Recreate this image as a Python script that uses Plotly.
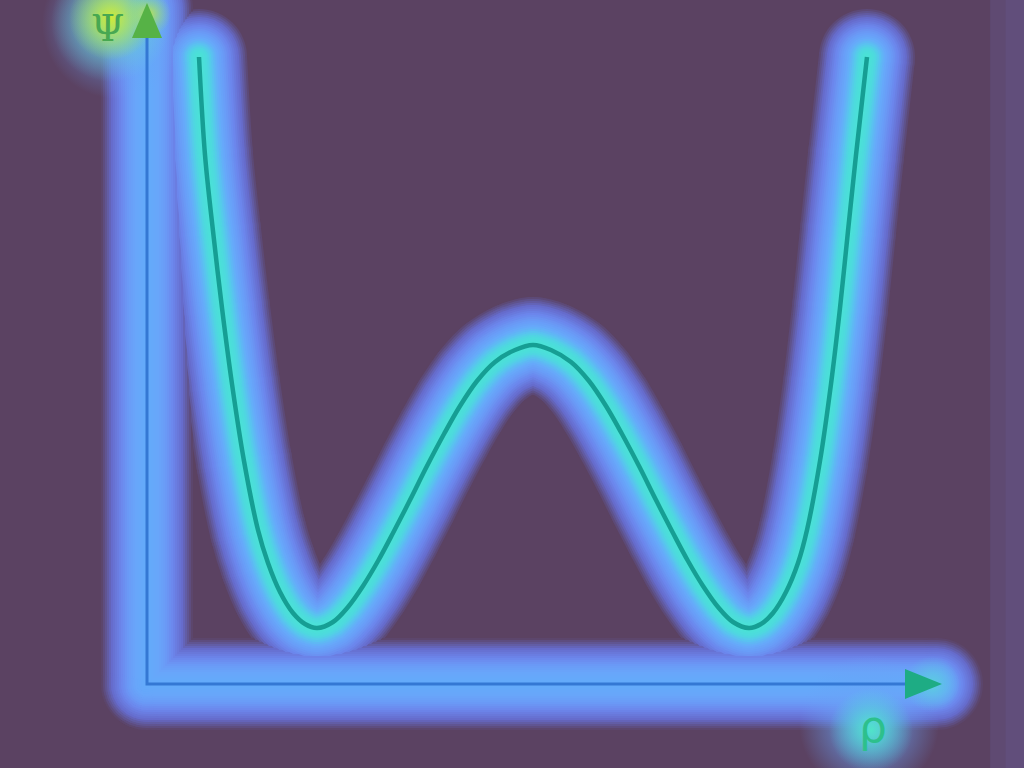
import plotly.graph_objects as go

# Double-well potential curve Psi(rho)
rho = [0.52, 0.58, 0.66, 0.75, 0.85, 0.97, 1.11, 1.21, 1.33, 1.46, 1.58, 1.70,
       1.86, 2.01, 2.16, 2.31, 2.46, 2.63, 2.80, 2.97, 3.13, 3.30, 3.48, 3.68, 3.86,
       4.04, 4.24, 4.42, 4.59, 4.75, 4.92, 5.09, 5.26, 5.41, 5.56, 5.71, 5.86, 6.02,
       6.14, 6.26, 6.39, 6.51, 6.60, 6.73, 6.84, 6.93, 7.01, 7.09, 7.20]
psi = [6.27, 5.29, 4.53, 3.76, 3.00, 2.23, 1.54, 1.21, 0.92, 0.71, 0.60, 0.56,
       0.62, 0.77, 0.98, 1.23, 1.51, 1.84, 2.18, 2.50, 2.78, 3.03, 3.22, 3.34, 3.39,
       3.34, 3.22, 3.03, 2.78, 2.50, 2.18, 1.84, 1.51, 1.23, 0.98, 0.77, 0.62, 0.56,
       0.60, 0.71, 0.92, 1.21, 1.54, 2.23, 3.00, 3.76, 4.53, 5.29, 6.27]

# Axis extents
x_axis_end = 7.58
x_arrow_tip = 7.95
y_axis_end = 6.46
y_arrow_tip = 6.81
head_half = 0.15

x_label = "ρ"
y_label = "Ψ"

BG = (91, 66, 98)

# glow colour profiles: (distance from line in px, rgb)
curve_profile = [(4, (75, 225, 215)), (9, (78, 218, 222)), (14, (90, 194, 240)),
                 (19, (102, 170, 250)), (25, (106, 156, 247)), (32, (108, 134, 236)),
                 (40, (102, 108, 204)), (50, BG)]
axis_profile = [(4, (100, 170, 250)), (12, (104, 166, 250)), (19, (106, 156, 247)),
                (27, (108, 134, 236)), (36, (102, 108, 204)), (47, BG)]


def colour_at(profile, d):
    if d <= profile[0][0]:
        c = profile[0][1]
    elif d >= profile[-1][0]:
        c = profile[-1][1]
    else:
        for (d0, c0), (d1, c1) in zip(profile[:-1], profile[1:]):
            if d0 <= d <= d1:
                t = (d - d0) / (d1 - d0)
                c = tuple(round(a + (b - a) * t) for a, b in zip(c0, c1))
                break
    return "rgb(%d,%d,%d)" % c


fig = go.Figure()


def glow_path(xs, ys, d, profile, spline):
    col = colour_at(profile, d)
    fig.add_trace(go.Scatter(
        x=xs, y=ys, mode="lines+markers",
        line=dict(color=col, width=2 * d, shape="spline" if spline else "linear"),
        marker=dict(size=2 * d, color=col, line=dict(width=0)),
        hoverinfo="skip", showlegend=False))


v_axis_x, v_axis_y = [0, 0], [0, y_arrow_tip - 0.05]
h_axis_x, h_axis_y = [0, x_arrow_tip - 0.05], [0, 0]

# layered glow, outer to inner, interleaved so the brighter layer wins
for d in range(48, 3, -2):
    if d <= 46:
        glow_path(v_axis_x, v_axis_y, d, axis_profile, False)
        glow_path(h_axis_x, h_axis_y, d, axis_profile, False)
    glow_path(rho, psi, d, curve_profile, True)


# glow blobs at arrow tips and labels
def blob(x, y, size, center, edge):
    fig.add_trace(go.Scatter(x=[x], y=[y], mode="markers", hoverinfo="skip", showlegend=False,
                             marker=dict(size=size, color=edge, line=dict(width=0),
                                         gradient=dict(type="radial", color=center))))


blob(-0.30, 6.60, 150, "rgba(104,168,250,0.9)", "rgba(104,160,245,0)")
blob(-0.36, 6.62, 120, "rgba(110,225,170,0.95)", "rgba(100,210,220,0)")
blob(-0.36, 6.66, 84, "rgb(208,233,58)", "rgba(175,228,80,0)")
blob(0.02, 6.70, 44, "rgba(190,230,70,0.9)", "rgba(150,225,120,0)")
blob(7.22, -0.40, 140, "rgba(104,168,250,1)", "rgba(104,160,245,0)")
blob(7.24, -0.46, 84, "rgba(80,228,200,1)", "rgba(80,215,220,0)")
blob(7.85, 0.0, 56, "rgba(90,215,215,0.8)", "rgba(90,200,230,0)")

# sharp lines
fig.add_trace(go.Scatter(x=[0, 0, x_axis_end], y=[y_axis_end, 0, 0], mode="lines",
                         line=dict(color="rgb(52,120,212)", width=3),
                         hoverinfo="skip", showlegend=False))
fig.add_trace(go.Scatter(x=rho, y=psi, mode="lines",
                         line=dict(color="rgb(22,158,148)", width=4.5, shape="spline"),
                         hoverinfo="skip", showlegend=False))

# arrowheads
fig.add_trace(go.Scatter(x=[-head_half, head_half, 0, -head_half],
                         y=[y_axis_end, y_axis_end, y_arrow_tip, y_axis_end],
                         mode="lines", fill="toself", fillcolor="rgb(86,178,70)",
                         line=dict(width=0, color="rgb(86,178,70)"), hoverinfo="skip", showlegend=False))
fig.add_trace(go.Scatter(x=[x_axis_end, x_axis_end, x_arrow_tip, x_axis_end],
                         y=[-head_half, head_half, 0, -head_half],
                         mode="lines", fill="toself", fillcolor="rgb(30,172,132)",
                         line=dict(width=0, color="rgb(30,172,132)"), hoverinfo="skip", showlegend=False))

fig.add_annotation(x=-0.40, y=6.56, text=y_label, showarrow=False,
                   font=dict(family="DejaVu Serif", size=38, color="rgb(72,168,82)"))
fig.add_annotation(x=7.26, y=-0.42, text=x_label, showarrow=False,
                   font=dict(family="DejaVu Sans", size=44, color="rgb(45,192,140)"))

# slightly lighter strip at the right edge
fig.add_shape(type="rect", xref="paper", yref="paper", x0=0.967, x1=1, y0=0, y1=1,
              fillcolor="rgba(100,85,135,0.45)", line=dict(width=0), layer="below")
fig.add_shape(type="rect", xref="paper", yref="paper", x0=0.982, x1=1, y0=0, y1=1,
              fillcolor="rgba(100,85,135,0.45)", line=dict(width=0), layer="below")

bg_hex = "#%02x%02x%02x" % BG
fig.update_layout(
    width=1024, height=768,
    margin=dict(l=0, r=0, t=0, b=0),
    paper_bgcolor=bg_hex, plot_bgcolor=bg_hex,
    xaxis=dict(range=[-1.47, 8.77], visible=False, fixedrange=True),
    yaxis=dict(range=[-0.84, 6.84], visible=False, fixedrange=True),
    showlegend=False,
)

fig.write_html("out.html")
